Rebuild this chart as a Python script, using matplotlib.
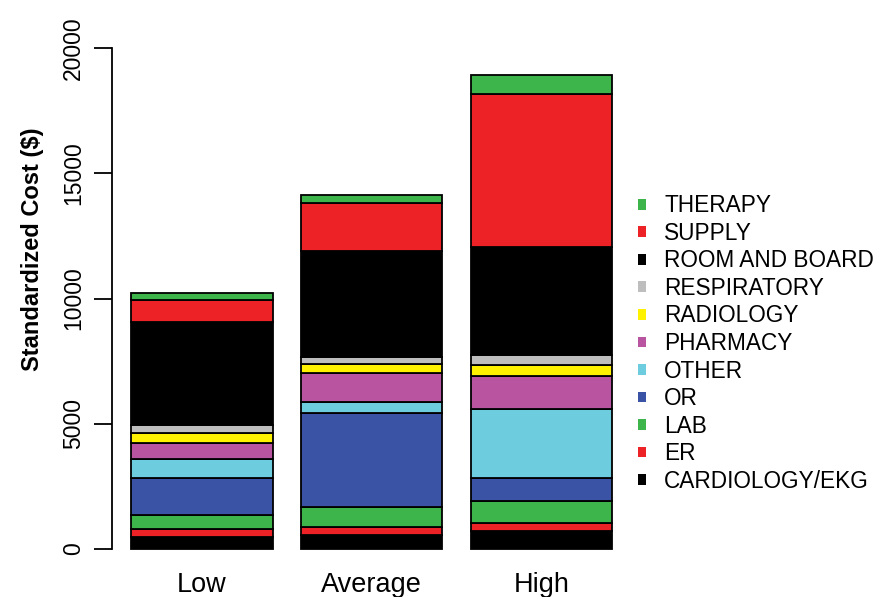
import matplotlib
matplotlib.use("Agg")
import matplotlib.pyplot as plt
from matplotlib.patches import Patch
import numpy as np

plt.rcParams['font.family'] = ['Liberation Sans', 'DejaVu Sans']

categories = ["Low", "Average", "High"]
series_names = ["CARDIOLOGY/EKG", "ER", "LAB", "OR", "OTHER", "PHARMACY",
                "RADIOLOGY", "RESPIRATORY", "ROOM AND BOARD", "SUPPLY", "THERAPY"]
cardiology = [470, 570, 720]
er = [320, 320, 305]
lab = [560, 800, 900]
or_ = [1475, 3750, 895]
other = [760, 415, 2755]
pharmacy = [665, 1160, 1330]
radiology = [375, 360, 440]
respiratory = [320, 305, 390]
room_and_board = [4135, 4220, 4335]
supply = [865, 1930, 6095]
therapy = [290, 310, 760]

series_values = [cardiology, er, lab, or_, other, pharmacy, radiology,
                 respiratory, room_and_board, supply, therapy]
colors = ["#000000", "#EC2227", "#3DB54A", "#3A53A4", "#6DCCDD", "#B955A0",
          "#FFF200", "#BEBEBE", "#000000", "#EC2227", "#3DB54A"]

W, H = 876, 597
fig = plt.figure(figsize=(W / 100, H / 100), dpi=100)
ax_left, ax_right = 111.7, 662.0
ax_top, ax_bot = 28.0, 569.0
ax = fig.add_axes([ax_left / W, 1 - ax_bot / H, (ax_right - ax_left) / W, (ax_bot - ax_top) / H])

x = np.array([0.7 + 1.2 * i for i in range(len(categories))])
bottom = np.zeros(len(categories))
for vals, col in zip(series_values, colors):
    vals = np.array(vals, dtype=float)
    ax.bar(x, vals, width=1.0, bottom=bottom, color=col, edgecolor="black", linewidth=1.3, zorder=2)
    bottom += vals

ax.set_xlim(0.0636, 3.952)
ax.set_ylim(-800, 20800)
for s in ["top", "right", "bottom"]:
    ax.spines[s].set_visible(False)
ax.spines["left"].set_bounds(0, 20000)
ax.spines["left"].set_linewidth(1.3)
ax.set_yticks([0, 5000, 10000, 15000, 20000])
ax.set_yticklabels(["0", "5000", "10000", "15000", "20000"], rotation=90, va="center", fontsize=16.5)
ax.tick_params(axis="y", length=13, width=1.3, pad=6)
ax.set_xticks(x)
ax.set_xticklabels(categories, fontsize=19.5)
ax.tick_params(axis="x", length=0, pad=2)

fig.text(33 / W, 1 - 249 / H, "Standardized Cost ($)", rotation=90, ha="center", va="center",
         fontsize=17, fontweight="bold")

handles = [Patch(facecolor=c, edgecolor="none") for c in colors][::-1]
labels = series_names[::-1]
fig.legend(handles, labels, loc="center left", bbox_to_anchor=(638 / W, 1 - 343.5 / H),
           frameon=False, fontsize=16.3, handlelength=0.35, handleheight=0.35,
           handletextpad=0.8, labelspacing=0.2, borderpad=0, borderaxespad=0)

fig.savefig("out.png", dpi=100)
